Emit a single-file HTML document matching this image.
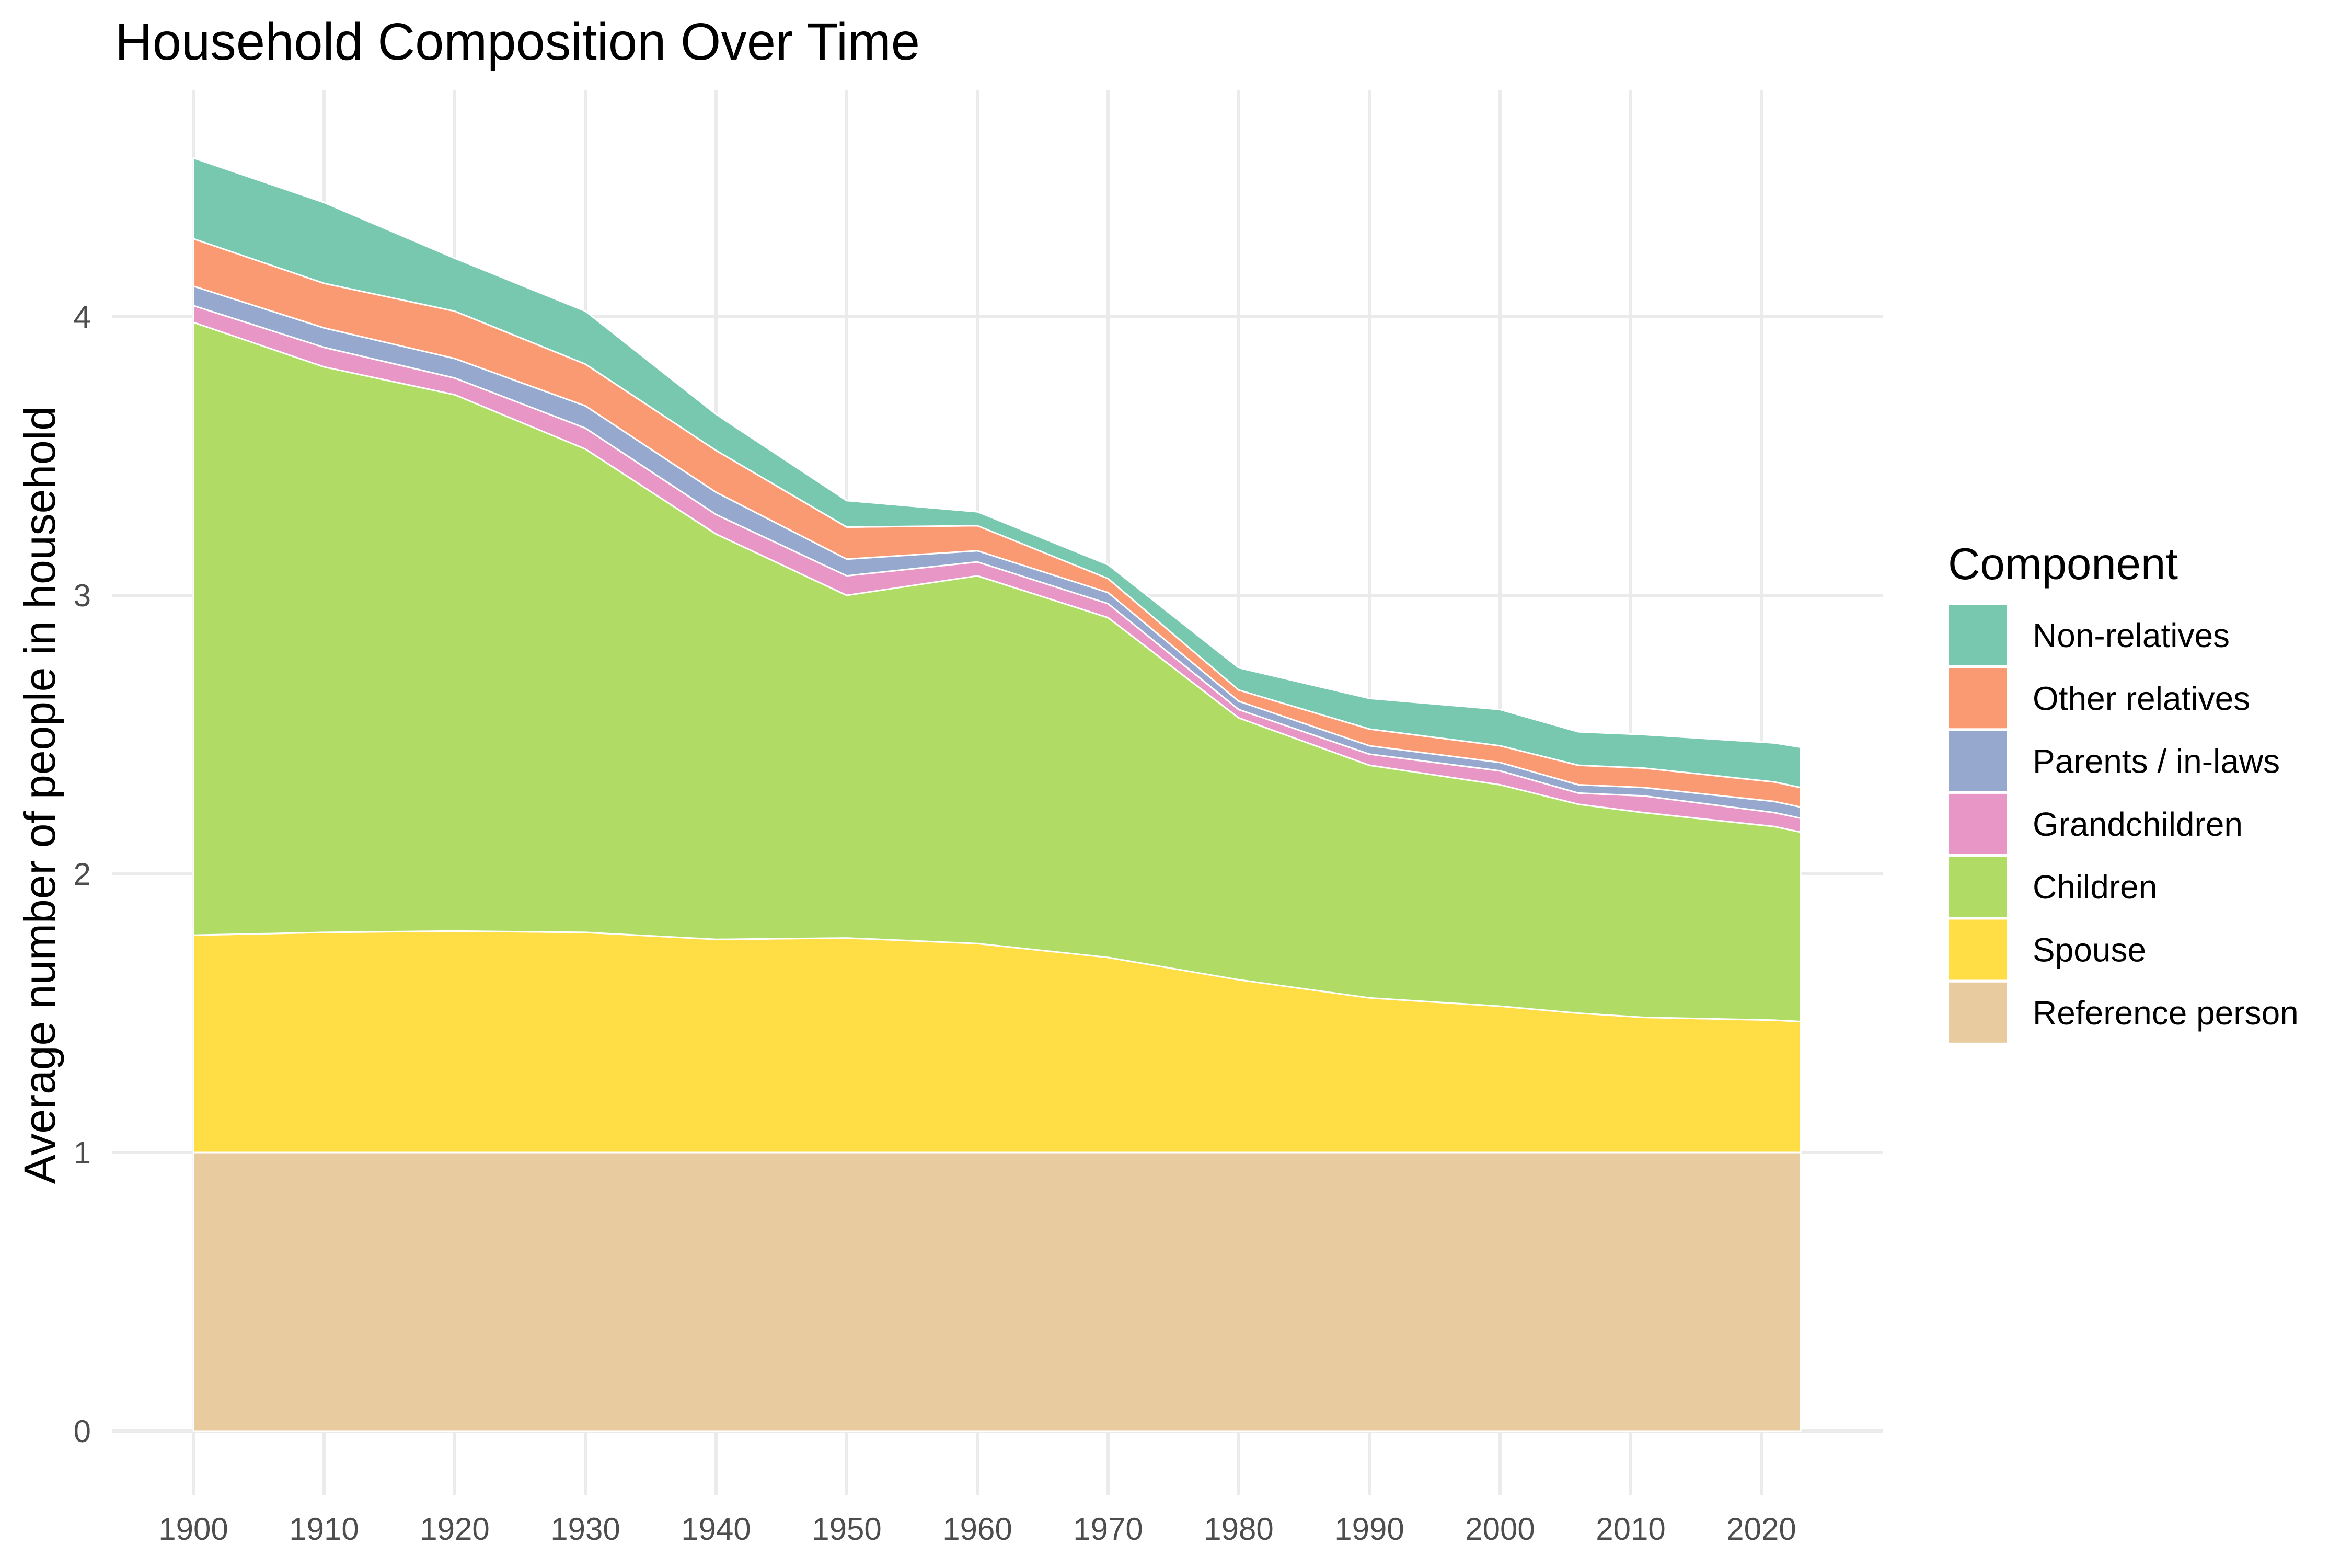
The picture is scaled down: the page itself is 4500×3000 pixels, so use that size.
<!DOCTYPE html>
<html><head><meta charset="utf-8"><style>
html,body{margin:0;padding:0;background:#fff;}
svg{display:block;font-family:"Liberation Sans",Arial,sans-serif;}
</style></head><body>
<svg id="chart" width="4500" height="3000" viewBox="0 0 4500 3000">
<rect width="4500" height="3000" fill="#fff"/>
<text x="220" y="114" font-size="100" fill="#000" textLength="1540" lengthAdjust="spacingAndGlyphs">Household Composition Over Time</text>
<text transform="translate(105,1521) rotate(-90)" text-anchor="middle" font-size="84" fill="#000">Average number of people in household</text>
<g id="grid"></g>
<g id="areas"></g>
<g id="xticks"></g>
<g id="yticks"></g>
<g id="legend">
<text x="3727" y="1108" font-size="85" fill="#000" textLength="440" lengthAdjust="spacingAndGlyphs">Component</text>
</g>
</svg>
<script>
const years = [1900,1910,1920,1930,1940,1950,1960,1970,1980,1990,2000,2006,2011,2021,2023];
const referencePerson = [1,1,1,1,1,1,1,1,1,1,1,1,1,1,1];
const spouse = [0.78,0.79,0.795,0.79,0.765,0.77,0.75,0.70,0.62,0.555,0.525,0.50,0.485,0.475,0.47];
const children = [2.20,2.03,1.925,1.735,1.455,1.23,1.32,1.22,0.94,0.835,0.795,0.75,0.735,0.695,0.68];
const grandchildren = [0.06,0.07,0.06,0.075,0.07,0.07,0.05,0.05,0.03,0.04,0.05,0.04,0.06,0.05,0.05];
const parentsInLaws = [0.07,0.07,0.07,0.08,0.08,0.06,0.04,0.04,0.03,0.03,0.03,0.03,0.03,0.04,0.04];
const otherRelatives = [0.17,0.16,0.17,0.15,0.15,0.115,0.09,0.05,0.04,0.06,0.06,0.07,0.07,0.07,0.07];
const nonRelatives = [0.29,0.29,0.19,0.19,0.13,0.095,0.05,0.05,0.08,0.11,0.13,0.12,0.12,0.14,0.145];
const componentNames = ["Reference person","Spouse","Children","Grandchildren","Parents / in-laws","Other relatives","Non-relatives"];
const xTickLabels = [1900,1910,1920,1930,1940,1950,1960,1970,1980,1990,2000,2010,2020];
const yTickLabels = [0,1,2,3,4];

const colors = ["#e8cb9f","#ffdd44","#b0dc66","#e796c6","#97a8cf","#fa9a72","#77c8ae"];
const series = [referencePerson,spouse,children,grandchildren,parentsInLaws,otherRelatives,nonRelatives];
const PX0=215, PX1=3602, PY0=173, PY1=2860;
function xs(y){return 370+(y-1900)*25;}
function ys(v){return 2738-v*533;}
const NS="http://www.w3.org/2000/svg";
function mk(tag,attrs,parent){const e=document.createElementNS(NS,tag);for(const k in attrs)e.setAttribute(k,attrs[k]);parent.appendChild(e);return e;}

const grid=document.getElementById('grid');
xTickLabels.forEach(t=>{
  const l=mk('line',{x1:xs(t),x2:xs(t),y1:PY0,y2:PY1,stroke:'#ebebeb','stroke-width':6},grid);
  
  
});
yTickLabels.forEach(t=>{
  const l=mk('line',{x1:PX0,x2:PX1,y1:ys(t),y2:ys(t),stroke:'#ebebeb','stroke-width':6},grid);
  
  
});

const areas=document.getElementById('areas');
let base=years.map(()=>0);
series.forEach((s,i)=>{
  const top=base.map((b,j)=>b+s[j]);
  let d='M'+years.map((y,j)=>xs(y)+','+ys(top[j])).join('L');
  for(let j=years.length-1;j>=0;j--) d+='L'+xs(years[j])+','+ys(base[j]);
  d+='Z';
  const p=mk('path',{d:d,fill:colors[i],stroke:'#fff','stroke-width':3,'stroke-linejoin':'round'},areas);
  
  
  base=top;
});

const xt=document.getElementById('xticks');
xTickLabels.forEach(t=>{
  const e=mk('text',{x:xs(t),y:2946,'text-anchor':'middle','font-size':60,fill:'#4d4d4d'},xt);
  e.textContent=t;
  
  
});
const yt=document.getElementById('yticks');
yTickLabels.forEach(t=>{
  const e=mk('text',{x:174,y:ys(t)+21,'text-anchor':'end','font-size':60,fill:'#4d4d4d'},yt);
  e.textContent=t;
  
  
});

const lg=document.getElementById('legend');
for(let k=0;k<7;k++){
  const i=6-k;
  const y=1158+k*120.3;
  const r=mk('rect',{x:3728,y:y,width:112,height:115,fill:colors[i]},lg);
  
  
  const t=mk('text',{x:3889,y:y+80,'font-size':64,fill:'#000'},lg);
  t.textContent=componentNames[i];
  
  
}
</script>
</body></html>
